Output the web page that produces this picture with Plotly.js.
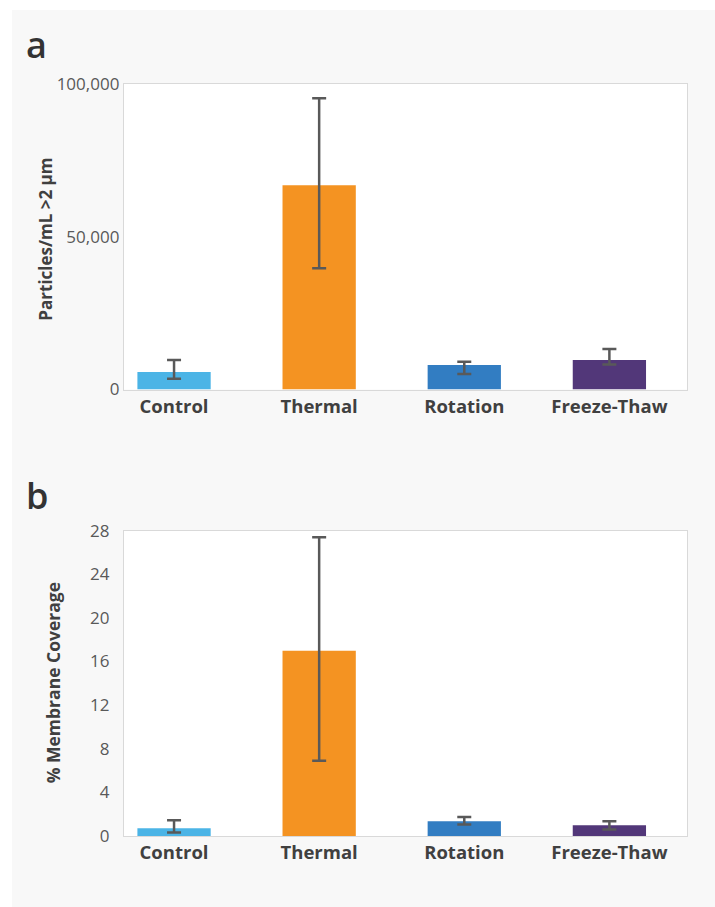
<!DOCTYPE html>
<html>
<head>
<meta charset="utf-8">
<script src="https://cdn.plot.ly/plotly-3.0.1.min.js"></script>
<style>
  html, body { margin: 0; padding: 0; background: #ffffff; }
  #chart { position: absolute; left: 12px; top: 10px; width: 703px; height: 897px; }
</style>
</head>
<body>
<div id="chart"></div>
<script>
// Data
const categories = ["Control", "Thermal", "Rotation", "Freeze-Thaw"];
const barColors = ["#4BB4E6", "#F49322", "#327DC2", "#523779"];

// Panel a: Particles/mL > 2 µm
const particles = [5700, 66900, 8000, 9700];
const particlesErrPlus = [4000, 28400, 1100, 3600];
const particlesErrMinus = [2200, 27200, 2900, 1550];
const particlesTicks = [0, 50000, 100000];
const particlesTickText = ["0", "50,000", "100,000"];

// Panel b: % Membrane Coverage
const coverage = [0.7, 17.0, 1.35, 0.98];
const coverageErrPlus = [0.75, 10.4, 0.39, 0.37];
const coverageErrMinus = [0.39, 10.1, 0.30, 0.39];
const coverageTicks = [0, 4, 8, 12, 16, 20, 24, 28];

const errStyle = { color: "#595959", thickness: 2.5, width: 7 };
const font = "Open Sans, sans-serif";

const traceA = {
  type: "bar", x: categories, y: particles, xaxis: "x", yaxis: "y",
  width: 0.505,
  marker: { color: barColors },
  error_y: Object.assign({ type: "data", symmetric: false, array: particlesErrPlus, arrayminus: particlesErrMinus }, errStyle),
  hoverinfo: "x+y"
};
const traceB = {
  type: "bar", x: categories, y: coverage, xaxis: "x2", yaxis: "y2",
  width: 0.505,
  marker: { color: barColors },
  error_y: Object.assign({ type: "data", symmetric: false, array: coverageErrPlus, arrayminus: coverageErrMinus }, errStyle),
  hoverinfo: "x+y"
};

const xCommon = {
  domain: [0.1593, 0.9602],
  range: [-0.345, 3.535],
  showline: true, mirror: true, linecolor: "#D9D9D9", linewidth: 1.2,
  showgrid: false, zeroline: false, ticks: "",
  tickfont: { family: font, size: 18.5, color: "#404040", weight: 700 },
  fixedrange: true
};
const yCommon = {
  showline: true, mirror: true, linecolor: "#D9D9D9", linewidth: 1.2,
  showgrid: false, zeroline: false, ticks: "",
  tickfont: { family: font, size: 17, color: "#595959" },
  tickmode: "array",
  fixedrange: true
};

const layout = {
  width: 703, height: 897,
  margin: { l: 0, r: 0, t: 0, b: 0 },
  paper_bgcolor: "#F8F8F8",
  plot_bgcolor: "#FFFFFF",
  showlegend: false,
  bargap: 0.5,
  xaxis: Object.assign({}, xCommon, { anchor: "y" }),
  yaxis: Object.assign({}, yCommon, {
    domain: [0.5769, 0.9175], range: [0, 100000], anchor: "x",
    tickvals: particlesTicks, ticktext: particlesTickText, ticklabelstandoff: 0
  }),
  xaxis2: Object.assign({}, xCommon, { anchor: "y2" }),
  yaxis2: Object.assign({}, yCommon, {
    domain: [0.0792, 0.4195], range: [0, 28], anchor: "x2",
    tickvals: coverageTicks, ticktext: coverageTicks.map(String), ticklabelstandoff: 10
  }),
  annotations: [
    { text: "a", xref: "paper", yref: "paper", x: 0.017, y: 0.962, xanchor: "left", yanchor: "middle",
      showarrow: false, font: { family: font, size: 36, color: "#333333", weight: 600 } },
    { text: "b", xref: "paper", yref: "paper", x: 0.017, y: 0.4582, xanchor: "left", yanchor: "middle",
      showarrow: false, font: { family: font, size: 36, color: "#333333", weight: 600 } },
    { text: "Particles/mL >2 µm", xref: "paper", yref: "paper", x: 34 / 703, y: 0.7440,
      xanchor: "center", yanchor: "middle", textangle: -90, showarrow: false,
      font: { family: font, size: 17, color: "#404040", weight: 700 } },
    { text: "% Membrane Coverage", xref: "paper", yref: "paper", x: 41 / 703, y: 0.2494,
      xanchor: "center", yanchor: "middle", textangle: -90, showarrow: false,
      font: { family: font, size: 17.5, color: "#404040", weight: 700 } }
  ]
};

Plotly.newPlot("chart", [traceA, traceB], layout, { displayModeBar: false, staticPlot: true });
</script>
</body>
</html>
